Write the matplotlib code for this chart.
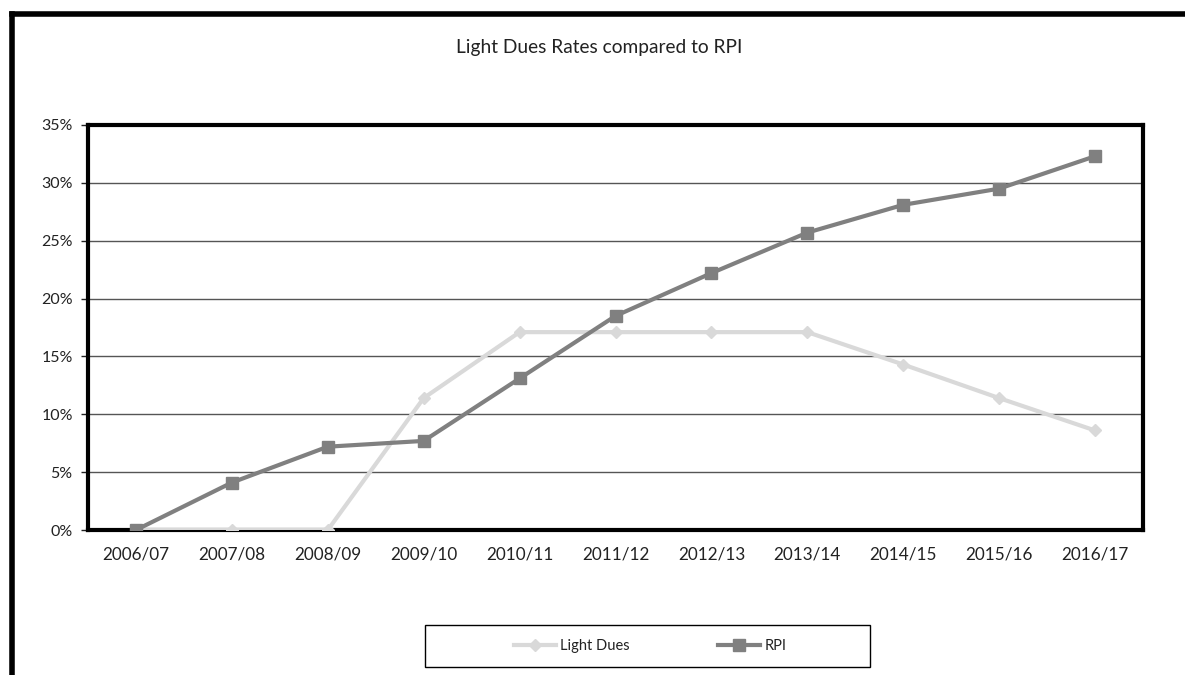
import matplotlib.pyplot as plt
from matplotlib.lines import Line2D
from matplotlib.patches import Rectangle
from matplotlib.ticker import FuncFormatter

plt.rcParams['font.family'] = ['Lato', 'DejaVu Sans']

# data (percent)
years = ['2006/07', '2007/08', '2008/09', '2009/10', '2010/11', '2011/12',
         '2012/13', '2013/14', '2014/15', '2015/16', '2016/17']
light_dues = [0, 0, 0, 11.4, 17.1, 17.1, 17.1, 17.1, 14.3, 11.4, 8.6]
rpi = [0, 4.1, 7.2, 7.7, 13.1, 18.5, 22.2, 25.7, 28.1, 29.5, 32.3]

W, H = 1185, 675
fig = plt.figure(figsize=(W / 100, H / 100), dpi=100)
ax = fig.add_axes([88/W, 1 - 530/H, (1143-88)/W, (530-125)/H])

x = list(range(len(years)))
ax.plot(x, light_dues, color='#d9d9d9', lw=3, marker='D', ms=6, label='Light Dues', zorder=3)
ax.plot(x, rpi, color='#808080', lw=3, marker='s', ms=8, label='RPI', zorder=4)

ax.set_xlim(-0.5, len(years) - 0.5)
ax.set_ylim(0, 35)
ax.set_yticks(range(0, 36, 5))
ax.yaxis.set_major_formatter(FuncFormatter(lambda v, p: f'{v:.0f}%'))
ax.set_xticks(x)
ax.set_xticklabels(years)
ax.tick_params(axis='x', length=0, pad=12, labelsize=12.3, colors='#222222')
ax.tick_params(axis='y', length=5, width=1, pad=6, labelsize=11.5, colors='#222222')
ax.grid(axis='y', color='#555555', lw=1)
ax.set_axisbelow(True)
for s in ax.spines.values():
    s.set_linewidth(3)
    s.set_color('black')

fig.text(599/W, 1 - 47/H, 'Light Dues Rates compared to RPI', ha='center', va='center',
         fontsize=13.8, color='#222222')

# outer chart frame (top and left edges visible)
fig.add_artist(Line2D([12/W, 1], [1 - 14/H, 1 - 14/H], color='black', lw=4,
                      transform=fig.transFigure))
fig.add_artist(Line2D([12/W, 12/W], [0, 1 - 14/H], color='black', lw=4,
                      transform=fig.transFigure))

# legend box
fig.add_artist(Rectangle((425/W, 1 - 667/H), 445/W, 42/H, transform=fig.transFigure,
                         fill=False, edgecolor='black', lw=1))
leg = fig.legend(loc='center', bbox_to_anchor=(650/W, 1 - 646/H), ncol=2,
                 frameon=False, fontsize=10.5, handlelength=2.9,
                 columnspacing=6.0, handletextpad=0.3)
for t in leg.get_texts():
    t.set_color('#222222')

fig.savefig('out.png', dpi=100)
